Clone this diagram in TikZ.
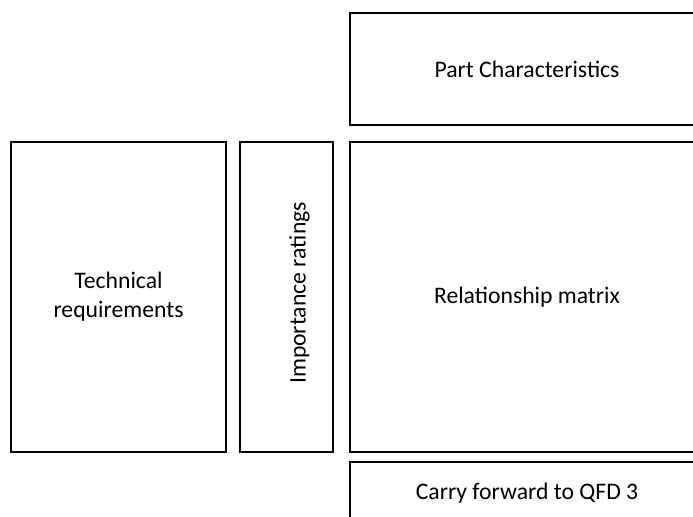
\documentclass[tikz,border=0pt]{standalone}
\usepackage{fontspec}
\setmainfont{Carlito}
\begin{document}
\begin{tikzpicture}[x=0.5pt,y=-0.5pt,
  panel/.style={draw=black, line width=1pt, fill=white, inner sep=0pt,
    align=center, font=\fontsize{11.85}{14.5}\selectfont}]
\useasboundingbox (0,0) rectangle (693,517);
\clip (0,0) rectangle (693,517);
% top row: part characteristics
\node[panel, minimum width=177pt, minimum height=56pt] (part) at (527,69) {Part Characteristics};
% middle row
\node[panel, minimum width=107.5pt, minimum height=155pt] (tech) at (118.5,297) {Technical\\requirements};
\node[panel, minimum width=46.5pt, minimum height=155pt] (imp) at (286.5,297) {};
\node[rotate=90, font=\fontsize{11.85}{14.5}\selectfont] (implabel) at ([xshift=6.5pt,yshift=2pt]imp.center) {Importance ratings};
\node[panel, minimum width=177pt, minimum height=155pt] (rel) at (527,297) {Relationship matrix};
% bottom row
\node[panel, minimum width=177pt, minimum height=31pt] (carry) at (527,493) {Carry forward to QFD 3};
\end{tikzpicture}
\end{document}
